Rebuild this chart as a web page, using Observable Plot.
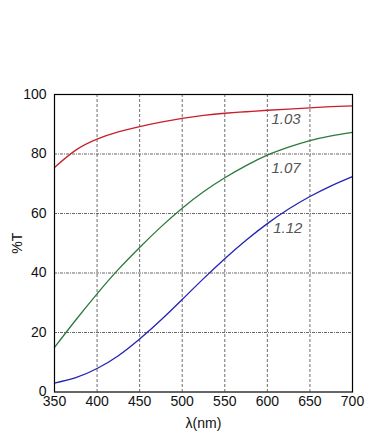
<!DOCTYPE html>
<html>
<head>
<meta charset="utf-8">
<script src="https://cdn.jsdelivr.net/npm/d3@7"></script>
<script src="https://cdn.jsdelivr.net/npm/@observablehq/plot@0.6"></script>
<style>
  html, body { margin: 0; padding: 0; background: #fff; }
</style>
</head>
<body>
<div id="chart"></div>
<script>
const wavelengths = [350, 375, 400, 425, 450, 475, 500, 525, 550, 575, 600, 625, 650, 675, 700];
const t103 = [75.5, 81.3, 85.0, 87.4, 89.2, 90.7, 92.0, 93.0, 93.7, 94.2, 94.7, 95.1, 95.5, 95.9, 96.2];
const t107 = [15.0, 24.2, 33.0, 41.2, 48.6, 55.5, 61.8, 67.3, 72.0, 76.1, 79.6, 82.3, 84.5, 86.1, 87.3];
const t112 = [3.0, 4.8, 7.9, 12.2, 17.8, 24.2, 31.1, 38.1, 44.8, 51.0, 56.6, 61.5, 65.7, 69.3, 72.4];
const seriesNames = ["1.03", "1.07", "1.12"];
const seriesColors = ["#c8202a", "#2b7a3c", "#2323b4"];
const labelX = [622, 622, 624];
const labelY = [91.6, 75.1, 55.0];
const xTicks = [350, 400, 450, 500, 550, 600, 650, 700];
const yTicks = [0, 20, 40, 60, 80, 100];

const seriesValues = [t103, t107, t112];
const rows = seriesNames.flatMap((name, i) =>
  wavelengths.map((w, j) => ({ series: name, x: w, y: seriesValues[i][j] })));
const labels = seriesNames.map((name, i) => ({ name, x: labelX[i], y: labelY[i] }));

const chart = Plot.plot({
  width: 382,
  height: 439,
  marginLeft: 54,
  marginRight: 30,
  marginTop: 94,
  marginBottom: 47.5,
  style: { fontFamily: "Liberation Sans, Arial, sans-serif", fontSize: "14px", color: "#111", background: "#fff" },
  x: { domain: [350, 700] },
  y: { domain: [0, 100] },
  color: { domain: seriesNames, range: seriesColors },
  marks: [
    Plot.gridX(xTicks.slice(1, -1), { stroke: "#333", strokeOpacity: 0.9, strokeDasharray: "3,2", strokeWidth: 0.8 }),
    Plot.gridY(yTicks.slice(1, -1), { stroke: "#444", strokeOpacity: 0.9, strokeDasharray: "3,1,1,1", strokeWidth: 0.9 }),
    Plot.axisX(xTicks, { tickSize: 0, tickPadding: 4, label: "λ(nm)", labelAnchor: "center", labelArrow: "none", labelOffset: 36, fontSize: 14 }),
    Plot.axisY(yTicks, { tickSize: 0, tickPadding: 8, label: "%T", labelAnchor: "center", labelArrow: "none", labelOffset: 42, fontSize: 14 }),
    Plot.line(rows, { x: "x", y: "y", z: "series", stroke: "series", strokeWidth: 1.3, curve: "natural" }),
    Plot.text(labels, { x: "x", y: "y", text: "name", fill: "#555", fontStyle: "italic", fontSize: 15 }),
    Plot.frame({ stroke: "#000", strokeWidth: 1.2 })
  ]
});
document.getElementById("chart").appendChild(chart);
</script>
</body>
</html>
